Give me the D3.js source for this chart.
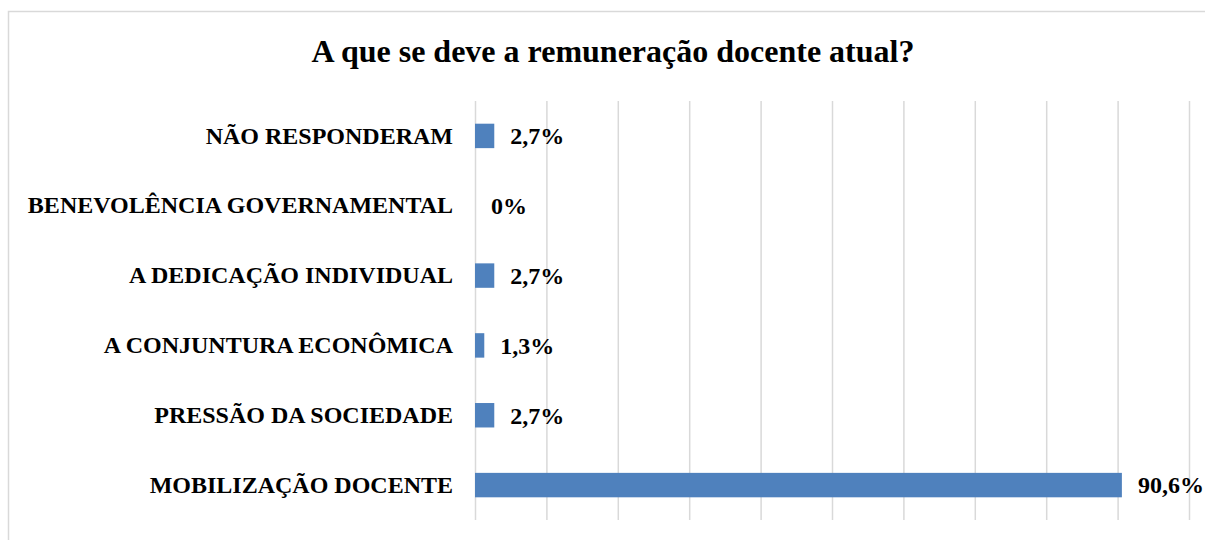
<!DOCTYPE html>
<html>
<head>
<meta charset="utf-8">
<script src="https://cdn.jsdelivr.net/npm/d3@7"></script>
<style>
  body { margin: 0; background: #fff; }
  svg { display: block; }
</style>
</head>
<body>
<svg id="chart" width="1205" height="540"></svg>
<script>
// Categories as they appear, top to bottom
var categories = [
  "NÃO RESPONDERAM",
  "BENEVOLÊNCIA GOVERNAMENTAL",
  "A DEDICAÇÃO INDIVIDUAL",
  "A CONJUNTURA ECONÔMICA",
  "PRESSÃO DA SOCIEDADE",
  "MOBILIZAÇÃO DOCENTE"
];
var values = [2.7, 0, 2.7, 1.3, 2.7, 90.6];
var valueLabels = ["2,7%", "0%", "2,7%", "1,3%", "2,7%", "90,6%"];
var gridTicks = [0, 10, 20, 30, 40, 50, 60, 70, 80, 90, 100];
var title = "A que se deve a remuneração docente atual?";

var serif = "'Liberation Serif', 'Times New Roman', serif";

var svg = d3.select("#chart"),
  margin = {top: 101, right: 16, bottom: 20, left: 475},
  width = 1189 - margin.left,
  height = 520 - margin.top;

var x = d3.scaleLinear().domain([0, 100]).range([0, width]);
var y = d3.scaleBand().domain(categories).range([0, height]).paddingInner(0.65).paddingOuter(0.325);

// outer frame (only top and left edges show in the picture)
svg.append("path")
  .attr("d", "M8.5,540 L8.5,11.5 L1205,11.5")
  .attr("fill", "none")
  .attr("stroke", "#d9d9d9")
  .attr("stroke-width", 1.5);

svg.append("text")
  .attr("x", 613)
  .attr("y", 62)
  .attr("text-anchor", "middle")
  .attr("font-family", serif)
  .attr("font-weight", "bold")
  .attr("font-size", 32)
  .attr("fill", "#000")
  .text(title);

var g = svg.append("g")
  .attr("transform", "translate(" + margin.left + ", " + margin.top + ")");

// vertical gridlines
g.append("g")
  .call(d3.axisBottom(x).tickValues(gridTicks).tickSize(height).tickFormat(""))
  .call(function(s) {
    s.select(".domain").remove();
    s.selectAll(".tick line").attr("stroke", "#d9d9d9").attr("stroke-width", 1.5);
  });

// category labels
g.append("g")
  .call(d3.axisLeft(y).tickSize(0).tickPadding(22))
  .call(function(s) {
    s.select(".domain").remove();
    s.selectAll(".tick text")
      .attr("font-family", serif)
      .attr("font-weight", "bold")
      .attr("font-size", 24)
      .attr("fill", "#000");
  });

g.selectAll("rect.bar")
  .data(values)
  .enter().append("rect")
  .attr("class", "bar")
  .attr("x", x(0))
  .attr("y", function(d, i) { return y(categories[i]); })
  .attr("width", function(d) { return x(d) - x(0); })
  .attr("height", y.bandwidth())
  .attr("fill", "#4f81bd");

g.selectAll("text.val")
  .data(values)
  .enter().append("text")
  .attr("class", "val")
  .attr("x", function(d) { return x(d) + 16; })
  .attr("y", function(d, i) { return y(categories[i]) + y.bandwidth() / 2; })
  .attr("dy", "0.35em")
  .attr("font-family", serif)
  .attr("font-weight", "bold")
  .attr("font-size", 24)
  .attr("fill", "#000")
  .text(function(d, i) { return valueLabels[i]; });
</script>
</body>
</html>
